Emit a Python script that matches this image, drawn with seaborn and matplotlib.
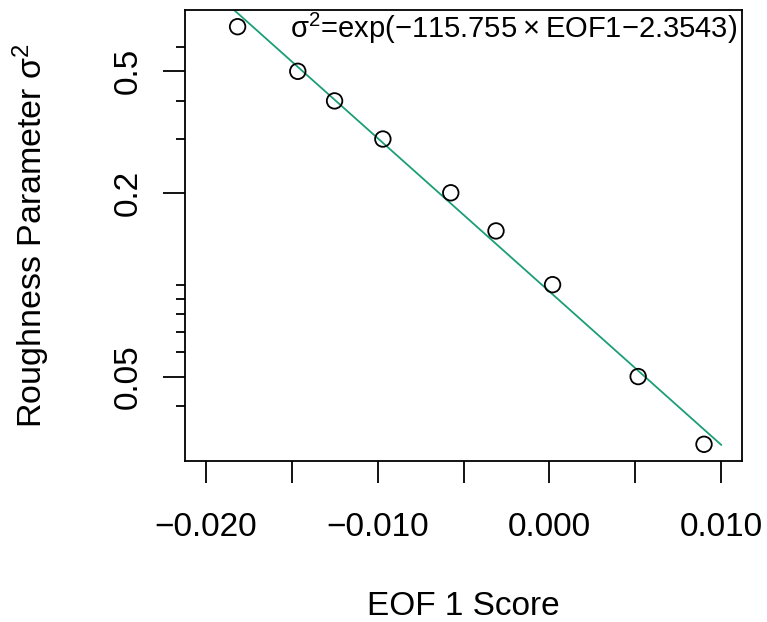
import numpy as np
import pandas as pd
import matplotlib
matplotlib.use("Agg")
import matplotlib.pyplot as plt
import seaborn as sns

# EOF 1 score vs roughness parameter (log scale)
eof1 = [-0.01814, -0.01464, -0.01250, -0.00969, -0.00574, -0.00311, 0.00018, 0.00516, 0.00899]
sigma2 = [0.70, 0.50, 0.40, 0.30, 0.20, 0.15, 0.10, 0.05, 0.03]

# fitted model: sigma^2 = exp(slope * EOF1 + intercept)
slope = -115.755
intercept = -2.3543
fit_range = [-0.020, 0.010]

x_ticks = [-0.020, -0.015, -0.010, -0.005, 0.000, 0.005, 0.010]
x_tick_labels = ["\u22120.020", "", "\u22120.010", "", "0.000", "", "0.010"]
y_major = [0.05, 0.2, 0.5]
y_major_labels = ["0.05", "0.2", "0.5"]
y_minor = [0.04, 0.06, 0.07, 0.08, 0.09, 0.1, 0.3, 0.4, 0.6]

sns.set_style("ticks")
plt.rcParams["font.family"] = ["Liberation Sans", "DejaVu Sans"]
plt.rcParams.update({
    "text.color": "black", "axes.labelcolor": "black",
    "xtick.color": "black", "ytick.color": "black",
    "mathtext.fontset": "custom",
    "mathtext.rm": "Liberation Sans",
    "mathtext.it": "Liberation Sans",
    "mathtext.default": "regular",
})

pts = pd.DataFrame({"eof1": eof1, "sigma2": sigma2})
fx = np.linspace(fit_range[0], fit_range[1], 50)
fit = pd.DataFrame({"eof1": fx, "sigma2": np.exp(slope * fx + intercept)})

fig = plt.figure(figsize=(7.67, 6.22), dpi=100)
ax = fig.add_axes([185 / 767, 1 - 461 / 622, 557 / 767, 451 / 622])

sns.lineplot(data=fit, x="eof1", y="sigma2", ax=ax, color="#1B9E77", lw=1.3)
sns.scatterplot(data=pts, x="eof1", y="sigma2", ax=ax, marker="o", s=125,
                facecolor="none", edgecolor="black", linewidth=1.3, zorder=3)

ax.set_yscale("log")
# R-style 4% padding
xr = fit_range[1] - fit_range[0]
ax.set_xlim(fit_range[0] - 0.04 * xr, fit_range[1] + 0.04 * xr)
ly = np.log10([min(sigma2), max(sigma2)])
lr = ly[1] - ly[0]
ax.set_ylim(10 ** (ly[0] - 0.04 * lr), 10 ** (ly[1] + 0.04 * lr))

ax.set_xticks(x_ticks)
ax.set_xticklabels(x_tick_labels)
ax.set_yticks(y_major)
ax.set_yticklabels(y_major_labels)
ax.set_yticks(y_minor, minor=True)
ax.yaxis.set_minor_formatter(matplotlib.ticker.NullFormatter())
ax.xaxis.set_minor_locator(matplotlib.ticker.NullLocator())

ax.tick_params(axis="both", which="major", length=16, width=1.3, labelsize=24, color="black")
ax.tick_params(axis="x", which="major", pad=21)
ax.tick_params(axis="y", which="major", pad=14, labelrotation=90)
ax.tick_params(axis="y", which="minor", length=6.5, width=1.3, color="black")
for lab in ax.get_yticklabels():
    lab.set_va("center")

for sp in ax.spines.values():
    sp.set_visible(True)
    sp.set_linewidth(1.3)
    sp.set_color("black")

ax.set_xlabel("EOF 1 Score", fontsize=24, va="baseline")
ax.xaxis.set_label_coords(0.5, -0.342)
ax.set_ylabel("Roughness Parameter $\\sigma^2$", fontsize=24.5, va="baseline")
ax.yaxis.set_label_coords(-0.2567, 0.5)

ax.text(0.991, 0.938, "$\\sigma^2$=exp(\u2212115.755\u2009\u00d7\u2009EOF1\u22122.3543)",
        transform=ax.transAxes, ha="right", va="baseline", fontsize=21)

fig.savefig("out.png", dpi=100)
